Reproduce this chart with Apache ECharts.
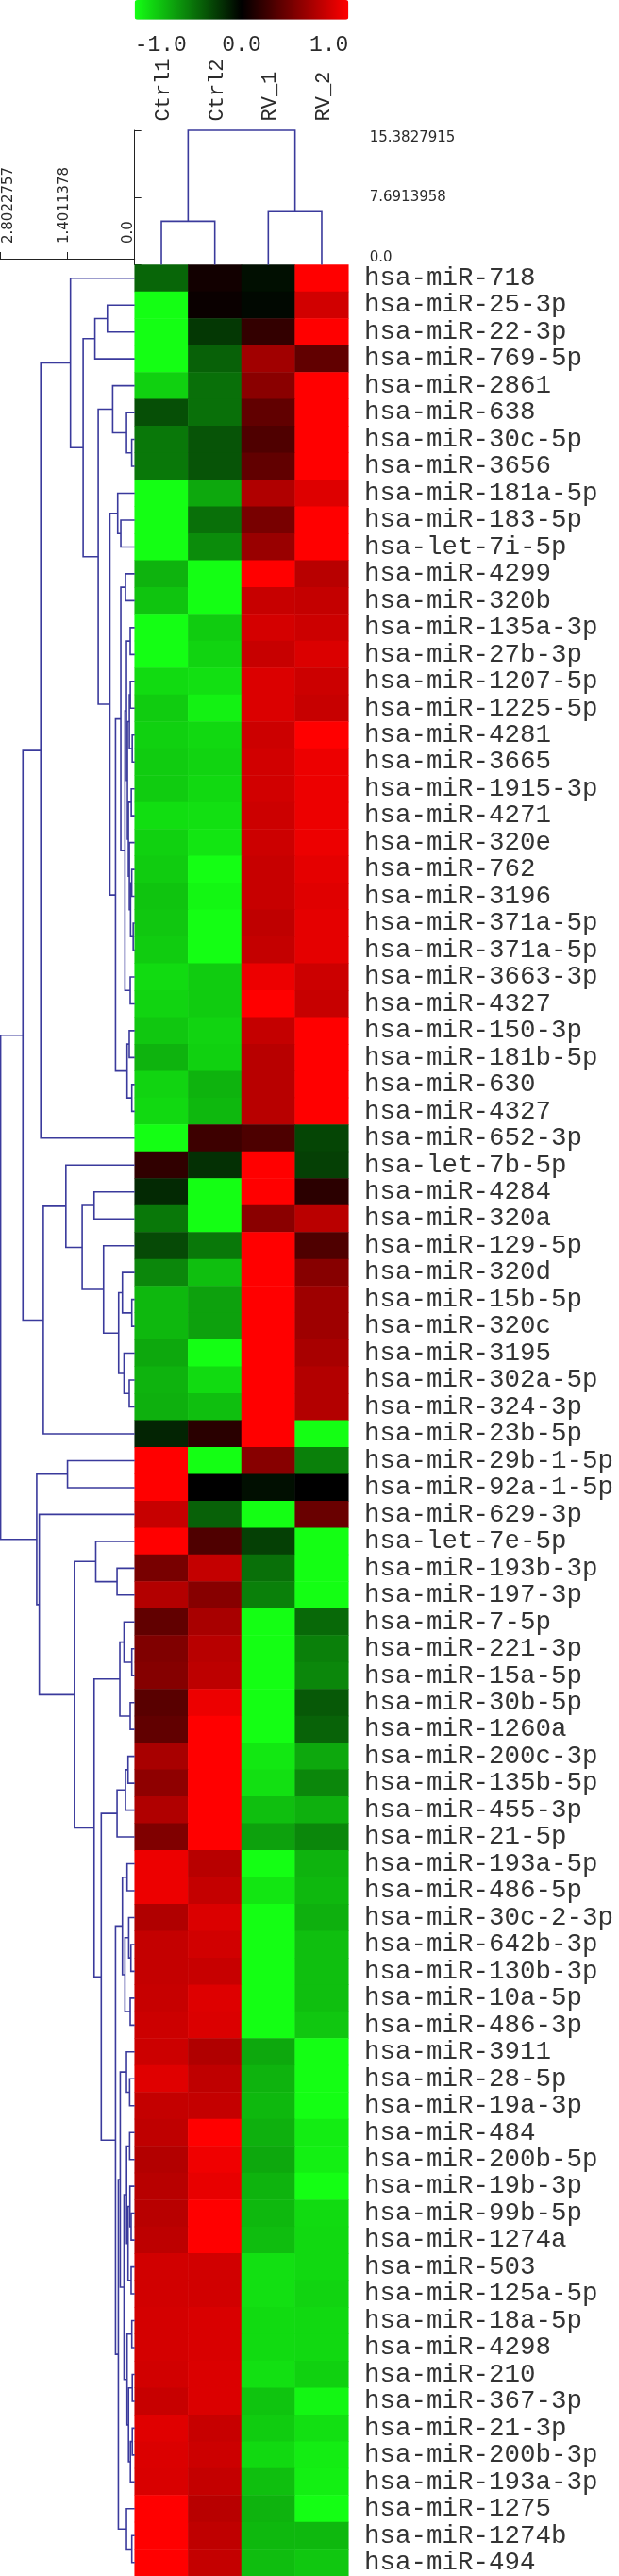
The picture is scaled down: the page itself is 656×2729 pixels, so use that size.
<!DOCTYPE html>
<html><head><meta charset="utf-8">
<script src="https://cdn.jsdelivr.net/npm/echarts@6/dist/echarts.min.js"></script>
<style>html,body{margin:0;padding:0;background:#fff}#c{width:656px;height:2729px}</style>
</head><body><div id="c"></div>
<script>
// ---------------- DATA ----------------
const colNames = ['Ctrl1', 'Ctrl2', 'RV_1', 'RV_2'];
const rowNames = [
 'hsa-miR-718','hsa-miR-25-3p','hsa-miR-22-3p','hsa-miR-769-5p','hsa-miR-2861','hsa-miR-638','hsa-miR-30c-5p','hsa-miR-3656',
 'hsa-miR-181a-5p','hsa-miR-183-5p','hsa-let-7i-5p','hsa-miR-4299','hsa-miR-320b','hsa-miR-135a-3p','hsa-miR-27b-3p','hsa-miR-1207-5p',
 'hsa-miR-1225-5p','hsa-miR-4281','hsa-miR-3665','hsa-miR-1915-3p','hsa-miR-4271','hsa-miR-320e','hsa-miR-762','hsa-miR-3196',
 'hsa-miR-371a-5p','hsa-miR-371a-5p','hsa-miR-3663-3p','hsa-miR-4327','hsa-miR-150-3p','hsa-miR-181b-5p','hsa-miR-630','hsa-miR-4327',
 'hsa-miR-652-3p','hsa-let-7b-5p','hsa-miR-4284','hsa-miR-320a','hsa-miR-129-5p','hsa-miR-320d','hsa-miR-15b-5p','hsa-miR-320c',
 'hsa-miR-3195','hsa-miR-302a-5p','hsa-miR-324-3p','hsa-miR-23b-5p','hsa-miR-29b-1-5p','hsa-miR-92a-1-5p','hsa-miR-629-3p','hsa-let-7e-5p',
 'hsa-miR-193b-3p','hsa-miR-197-3p','hsa-miR-7-5p','hsa-miR-221-3p','hsa-miR-15a-5p','hsa-miR-30b-5p','hsa-miR-1260a','hsa-miR-200c-3p',
 'hsa-miR-135b-5p','hsa-miR-455-3p','hsa-miR-21-5p','hsa-miR-193a-5p','hsa-miR-486-5p','hsa-miR-30c-2-3p','hsa-miR-642b-3p','hsa-miR-130b-3p',
 'hsa-miR-10a-5p','hsa-miR-486-3p','hsa-miR-3911','hsa-miR-28-5p','hsa-miR-19a-3p','hsa-miR-484','hsa-miR-200b-5p','hsa-miR-19b-3p',
 'hsa-miR-99b-5p','hsa-miR-1274a','hsa-miR-503','hsa-miR-125a-5p','hsa-miR-18a-5p','hsa-miR-4298','hsa-miR-210','hsa-miR-367-3p',
 'hsa-miR-21-3p','hsa-miR-200b-3p','hsa-miR-193a-3p','hsa-miR-1275','hsa-miR-1274b','hsa-miR-494'
];
const ctrl1 = [-0.40,-1,-1,-1,-0.82,-0.31,-0.47,-0.47,-1,-1, -1,-0.70,-0.77,-1,-1,-0.86,-0.80,-0.82,-0.80,-0.80,
 -0.87,-0.82,-0.80,-0.77,-0.78,-0.80,-0.86,-0.83,-0.78,-0.70, -0.83,-0.85,-1,0.19,-0.16,-0.47,-0.29,-0.53,-0.72,-0.72,
 -0.66,-0.70,-0.69,-0.14,1,1,0.78,1,0.47,0.70, 0.38,0.50,0.52,0.35,0.38,0.66,0.56,0.69,0.50,0.93,
 0.93,0.69,0.77,0.77,0.78,0.80,0.80,0.88,0.77,0.75, 0.70,0.72,0.72,0.74,0.82,0.82,0.83,0.83,0.82,0.78, 0.88,0.86,0.85,1,1,1];
const ctrl2 = [0.07,0.04,-0.22,-0.38,-0.44,-0.44,-0.33,-0.33,-0.66,-0.44, -0.55,-1,-1,-0.80,-0.83,-0.88,-0.95,-0.85,-0.83,-0.85,
 -0.88,-0.90,-1,-0.97,-1,-1,-0.80,-0.80,-0.83,-0.82, -0.70,-0.72,0.24,-0.19,-1,-1,-0.47,-0.75,-0.63,-0.63,
 -1,-0.86,-0.75,0.16,-1,0,-0.38,0.31,0.77,0.53, 0.66,0.72,0.74,0.93,1,1,1,1,1,0.72,
 0.77,0.86,0.82,0.78,0.87,0.86,0.69,0.75,0.77,1, 0.94,0.91,1,1,0.82,0.82,0.85,0.85,0.86,0.86, 0.78,0.80,0.77,0.72,0.75,0.77];
const rv1 = [-0.06,-0.03,0.20,0.63,0.54,0.38,0.31,0.38,0.69,0.47, 0.60,1,0.78,0.83,0.78,0.86,0.86,0.80,0.82,0.82,
 0.80,0.80,0.78,0.78,0.75,0.77,0.93,1,0.77,0.72, 0.72,0.72,0.30,1,1,0.54,1,1,1,1,
 1,1,1,1,0.53,-0.06,-1,-0.25,-0.44,-0.50, -1,-1,-1,-1,-1,-0.91,-0.88,-0.75,-0.63,-1,
 -0.90,-1,-1,-1,-1,-1,-0.66,-0.70,-0.72,-0.69, -0.66,-0.70,-0.72,-0.74,-0.88,-0.88,-0.86,-0.86,-0.88,-0.77, -0.80,-0.85,-0.75,-0.70,-0.72,-0.74];
const rv2 = [1,0.82,1,0.38,1,1,1,1,0.87,1, 1,0.72,0.77,0.80,0.86,0.80,0.78,1,0.93,0.93,
 0.93,0.93,0.90,0.88,0.90,0.90,0.80,0.78,1,1, 1,1,-0.27,-0.25,0.17,0.73,0.31,0.53,0.62,0.62,
 0.66,0.70,0.70,-1,-0.50,0,0.41,-1,-1,-1, -0.41,-0.50,-0.53,-0.35,-0.39,-0.66,-0.53,-0.69,-0.53,-0.70,
 -0.72,-0.69,-0.75,-0.75,-0.75,-0.78,-1,-1,-1,-0.93, -0.94,-1,-0.86,-0.85,-0.85,-0.83,-0.85,-0.85,-0.82,-0.97, -0.88,-0.93,-0.94,-1,-0.72,-0.78];

const colorbarTicks = ['-1.0', '0.0', '1.0'];
const rowScaleTicks = ['0.0', '1.4011378', '2.8022757'];
const colScaleTicks = ['0.0', '7.6913958', '15.3827915'];

// Column dendrogram: [height, left, right], leaves are 1-based column numbers
const colTree = [15.3827915, [4.98, 1, 2], [6.07, 3, 4]];

// Row dendrogram: [height, left, right], leaves are 1-based row numbers
const rD = [0.568, 2, 3];
const rC = [0.827, rD, 4];
const rH = [0.061, 7, 8];
const rG = [0.169, 6, rH];
const rF = [0.457, 5, rG];
const rI = [0.288, 10, 11];
const rJ = [0.353, 9, rI];
const rN = [0.190, 12, 13];
const rP = [0.092, 14, 15];
const rA1 = [0.110, [0.090, 16, 17], [0.050, 18, 19]];
const rA2 = [0.130, [0.070, 20, 21], [0.110, 22, [0.085, [0.060, 23, 24], [0.030, 25, 26]]]];
const rO2 = [0.150, rA1, rA2];
const rO1 = [0.170, rP, rO2];
const rO = [0.202, rO1, [0.092, 27, 28]];
const rM = [0.288, rN, rO];
const rQ = [0.157, [0.112, 29, 30], [0.059, 31, 32]];
const rL = [0.398, rM, rQ];
const rK = [0.515, rJ, rL];
const rE = [0.758, rF, rK];
const rB = [1.072, rC, rE];
const rA = [1.336, 1, rB];
const rX = [1.954, rA, 33];
const rW = [0.255, 38, [0.059, 39, 40]];
const rV = [0.333, rW, [0.221, 41, [0.112, 42, 43]]];
const rU = [0.647, 37, rV];
const rT = [0.843, 35, 36];
const rS = [1.092, rT, rU];
const rR = [1.431, 34, rS];
const rZ = [1.901, rR, 44];
const rY = [2.326, rX, rZ];
const rAB = [1.397, 45, 46];
const rAE = [0.809, 48, [0.366, 49, 50]];
const rAG = [0.308, [0.221, 51, [0.059, 52, 53]], [0.092, 54, 55]];
const rAI = [0.366, [0.190, [0.137, 56, 57], 58], 59];
const rAK = [0.255, [0.157, 60, 61], [0.202, [0.123, 62, [0.078, 63, 64]], [0.092, 65, 66]]];
const rB1 = [0.170, 67, [0.104, 68, 69]];
const rB4 = [0.167, [0.104, 70, 71], [0.137, [0.098, 72, [0.073, 73, 74]], [0.073, 75, 76]]];
const rB5 = [0.157, [0.059, 77, 78], [0.127, [0.049, 79, 80], [0.088, [0.049, 81, 82], 83]]];
const rB3 = [0.221, rB4, rB5];
const rB2 = [0.300, rB1, rB3];
const rAL = [0.339, rB2, [0.170, 84, [0.059, 85, 86]]];
const rAJ = [0.398, rAK, rAL];
const rAH = [0.695, rAI, rAJ];
const rAF = [0.843, rAG, rAH];
const rAD = [1.254, rAE, rAF];
const rAC = [1.985, 47, rAD];
const rAA = [2.038, rAB, rAC];
const rowTree = [2.790, rY, rAA];

// ---------------- BUILD ----------------
function flatten(node, out) {
  if (typeof node === 'number') return { pos: node - 0.5, h: 0 };
  const a = flatten(node[1], out), b = flatten(node[2], out);
  out.push([node[0], a.pos, b.pos, a.h, b.h]);
  return { pos: (a.pos + b.pos) / 2, h: node[0] };
}
const rowLinks = []; flatten(rowTree, rowLinks);
const colLinks = []; flatten(colTree, colLinks);

const cols = [ctrl1, ctrl2, rv1, rv2];
const hmData = [];
for (let r = 0; r < rowNames.length; r++)
  for (let c = 0; c < cols.length; c++) hmData.push([c, r, cols[c][r]]);

const L0 = 142.7, W0 = 226.6, T0 = 280.5, H0 = 2448.5;
const LINE = '#3a3a9c';
const TXT = '#2a2a2a';
const MONO = "'Liberation Mono','DejaVu Sans Mono',monospace";
const SCALE_FONT = "15px 'DejaVu Sans','Verdana',sans-serif";
const ROW_MAX = 2.8022757, COL_MAX = 15.3827915;

const chart = echarts.init(document.getElementById('c'), null, { renderer: 'canvas' });
chart.setOption({
  animation: false,
  backgroundColor: '#ffffff',
  visualMap: {
    type: 'continuous', min: -1, max: 1, seriesIndex: 0, orient: 'horizontal',
    left: L0, top: 0, itemWidth: 20.7, itemHeight: W0, calculable: false, padding: 0,
    hoverLink: false, inRange: { color: ['#14ff14', '#000000', '#ff0000'] }
  },
  grid: [
    { left: L0, top: T0, width: W0, height: H0 },
    { left: 0, top: T0, width: L0, height: H0 },
    { left: L0, top: 138, width: W0, height: T0 - 138 },
    { left: L0, top: 20, width: W0, height: 1 }
  ],
  xAxis: [
    { gridIndex: 0, type: 'category', data: colNames, show: false },
    { gridIndex: 1, type: 'value', min: 0, max: ROW_MAX, interval: ROW_MAX / 2, inverse: true,
      position: 'top', offset: 6.5,
      axisLine: { show: true, onZero: false, lineStyle: { color: '#222', width: 1 } },
      axisTick: { show: true, length: 7, inside: false, lineStyle: { color: '#222' } },
      splitLine: { show: false }, axisLabel: { show: false } },
    { gridIndex: 2, type: 'value', min: 0, max: 4, show: false },
    { gridIndex: 3, type: 'value', min: -1, max: 1, interval: 1, position: 'bottom',
      axisLine: { show: false }, axisTick: { show: false }, splitLine: { show: false },
      axisLabel: { margin: 15, color: TXT, fontFamily: MONO, fontSize: 23,
        alignMinLabel: 'left', alignMaxLabel: 'right',
        formatter: v => colorbarTicks[Math.round(v + 1)] } }
  ],
  yAxis: [
    { gridIndex: 0, type: 'category', data: rowNames, inverse: true, position: 'right',
      axisLine: { show: false }, axisTick: { show: false },
      axisLabel: { interval: 0, margin: 16.7, color: '#333', fontFamily: MONO, fontSize: 27.5,
        padding: [11, 0, 0, 0] } },
    { gridIndex: 1, type: 'value', min: 0, max: rowNames.length, inverse: true, show: false },
    { gridIndex: 2, type: 'value', min: 0, max: COL_MAX, interval: COL_MAX / 2, position: 'right', offset: 8,
      axisLine: { show: true, lineStyle: { color: '#222', width: 1 } },
      axisTick: { show: true, length: 7, lineStyle: { color: '#222' } },
      splitLine: { show: false }, axisLabel: { show: false } },
    { gridIndex: 3, type: 'value', show: false }
  ],
  series: [
    { type: 'heatmap', xAxisIndex: 0, yAxisIndex: 0, data: hmData, progressive: 0,
      itemStyle: { borderWidth: 0 }, emphasis: { disabled: true } },
    { type: 'custom', xAxisIndex: 1, yAxisIndex: 1, data: rowLinks, silent: true, clip: false,
      encode: { x: [0, 3, 4], y: [1, 2] },
      renderItem: (p, api) => {
        const h = api.value(0), ya = api.value(1), yb = api.value(2), ha = api.value(3), hb = api.value(4);
        return { type: 'polyline', shape: { points: [api.coord([ha, ya]), api.coord([h, ya]), api.coord([h, yb]), api.coord([hb, yb])] },
          style: { stroke: LINE, lineWidth: 1.6, fill: null } };
      } },
    { type: 'custom', xAxisIndex: 2, yAxisIndex: 2, data: colLinks, silent: true, clip: false,
      encode: { x: [1, 2], y: [0, 3, 4] },
      renderItem: (p, api) => {
        const h = api.value(0), xa = api.value(1), xb = api.value(2), ha = api.value(3), hb = api.value(4);
        return { type: 'polyline', shape: { points: [api.coord([xa, ha]), api.coord([xa, h]), api.coord([xb, h]), api.coord([xb, hb])] },
          style: { stroke: LINE, lineWidth: 1.6, fill: null } };
      } }
  ]
});

// Text labels anchored at positions taken from the axes' scales.
const ROW_LABEL_SHIFT = [-7, -3, 9.5];   // horizontal nudges of the row-scale labels around their ticks
const COL_LABEL_SHIFT = [-7, -0.6, 8.4]; // vertical nudges of the column-scale labels around their ticks
const labels = [];
rowScaleTicks.forEach((t, i) => {
  const px = chart.convertToPixel({ xAxisIndex: 1 }, i * ROW_MAX / 2);
  labels.push({ type: 'text', x: px + ROW_LABEL_SHIFT[i], y: 258, rotation: Math.PI / 2, silent: true,
    style: { text: t, align: 'left', verticalAlign: 'middle', fill: TXT, font: SCALE_FONT } });
});
colScaleTicks.forEach((t, i) => {
  const py = chart.convertToPixel({ yAxisIndex: 2 }, i * COL_MAX / 2);
  labels.push({ type: 'text', x: 391.7, y: py + COL_LABEL_SHIFT[i], silent: true,
    style: { text: t, align: 'left', verticalAlign: 'middle', fill: TXT, font: SCALE_FONT } });
});
colNames.forEach((n, i) => {
  const px = chart.convertToPixel({ xAxisIndex: 2 }, i + 0.5);
  labels.push({ type: 'text', x: px + 2, y: 128.5, rotation: Math.PI / 2, silent: true,
    style: { text: n, align: 'left', verticalAlign: 'middle', fill: TXT, font: '22px ' + MONO } });
});
chart.setOption({ graphic: labels });
</script></body></html>
